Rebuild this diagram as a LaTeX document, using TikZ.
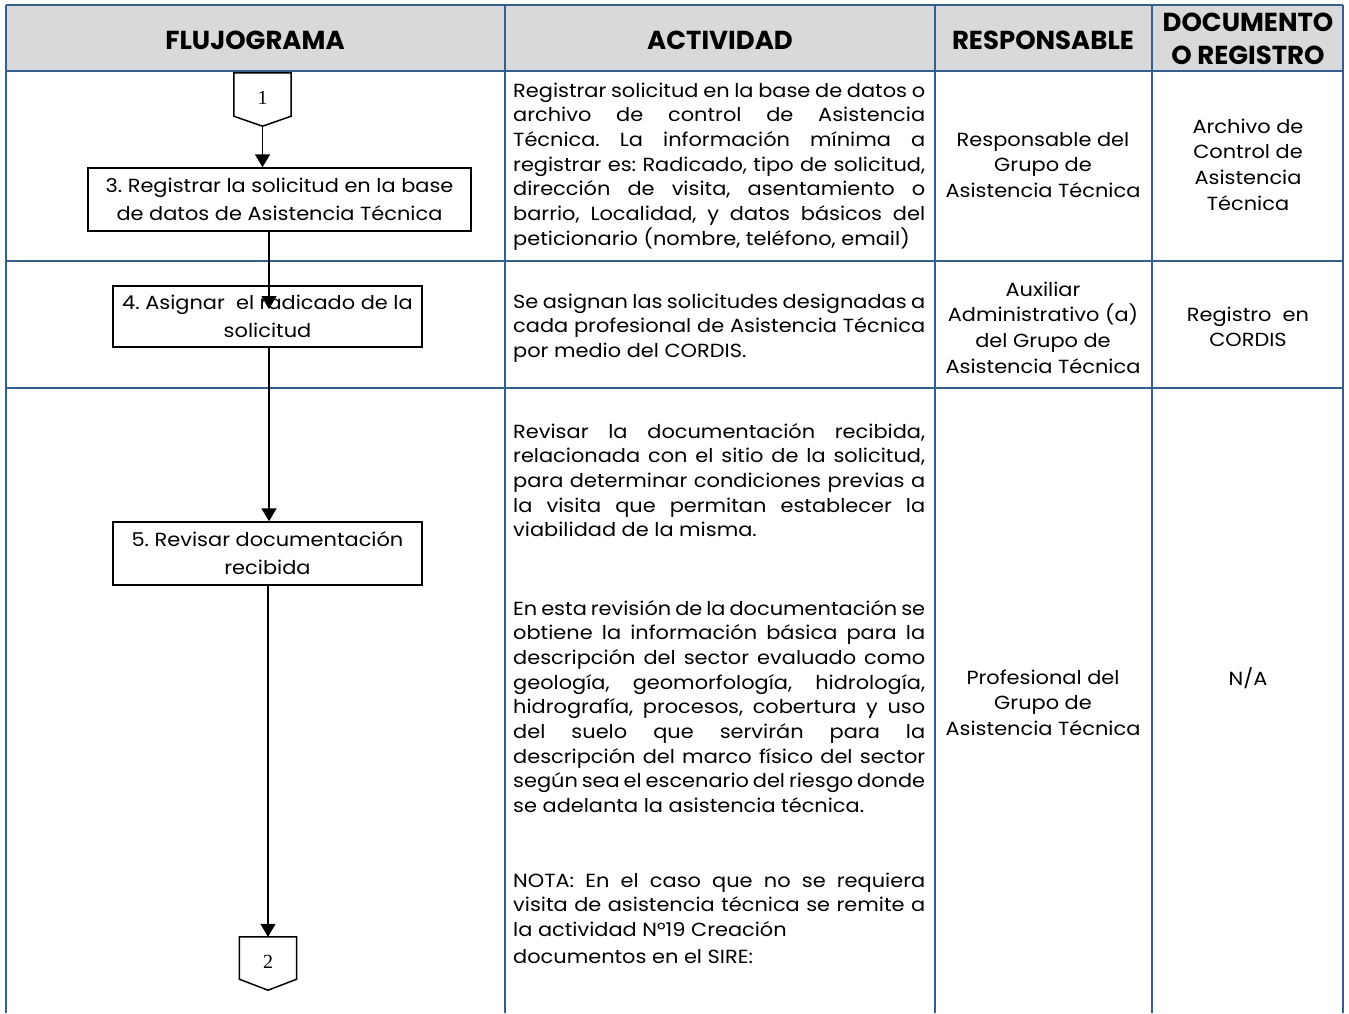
\documentclass[tikz,border=0pt]{standalone}
\usepackage{fontspec}
\setmainfont{Poppins}[FakeStretch=1.1]
\newfontfamily\headfont{Poppins}
\newfontfamily\numfont{Liberation Serif}
\usetikzlibrary{arrows.meta}
\frenchspacing

\definecolor{gridblue}{RGB}{54,95,145}
\definecolor{headgray}{RGB}{217,217,217}

% one line of a cell: justified, left aligned or centred
\newcommand\jline[1]{\hbox to \hsize{\spaceskip=0.26em plus 1fil minus 0.08em\relax #1}}
\newcommand\lline[1]{\hbox to \hsize{#1\hfil}}
\newcommand\ctrline[1]{\hbox to \hsize{\hfil#1\hfil}}
% a block of lines with a given width and line pitch
\newcommand\cellblock[3]{\vtop{\hsize=#1\relax\fontsize{19}{#2}\selectfont #3}}

\tikzset{
  x=1pt, y=-1pt,
  gridline/.style={draw=gridblue, line width=2.4pt},
  headtext/.style={inner sep=0, font=\headfont\fontsize{26}{33}\selectfont\bfseries, align=center},
  celltext/.style={inner sep=0},
  flowbox/.style={draw, line width=1.5pt, inner sep=0, align=center,
    font=\fontsize{19}{28}\selectfont},
  offpage/.style={inner sep=0, minimum width=57pt, minimum height=53pt,
    text depth=4pt, font=\numfont\fontsize{20}{20}\selectfont},
  flowline/.style={line width=1.5pt},
  flowarrow/.style={line width=1.5pt, -{Triangle[width=15pt,length=13pt]}},
}

\begin{document}
\begin{tikzpicture}
\useasboundingbox (0,0) rectangle (1349,1013);
\fill[white] (0,0) rectangle (1349,1013);

% ---- table frame ----
\fill[headgray] (6,5) rectangle (1343,71);
\foreach \yy in {5,71,261,388} \draw[gridline] (6,\yy) -- (1343,\yy);
\foreach \xx in {6,505,935,1152,1343} \draw[gridline] (\xx,5) -- (\xx,1013);

% ---- header ----
\node[headtext] (h1) at (255,40) {FLUJOGRAMA};
\node[headtext] (h2) at (720,40) {ACTIVIDAD};
\node[headtext] (h3) at (1043,40) {RESPONSABLE};
\node[headtext] (h4) at (1248,39) {DOCUMENTO\\O REGISTRO};

% ---- activity column ----
\node[celltext, anchor=base west] (a1) at (513,97) {\cellblock{412pt}{24.7pt}{%
  \jline{Registrar solicitud en la base de datos o}
  \jline{archivo de control de Asistencia}
  \jline{Técnica. La información mínima a}
  \jline{registrar es: Radicado, tipo de solicitud,}
  \jline{dirección de visita, asentamiento o}
  \jline{barrio, Localidad, y datos básicos del}
  \lline{peticionario (nombre, teléfono, email)}}};

\node[celltext, anchor=base west] (a2) at (513,308) {\cellblock{412pt}{24.7pt}{%
  \jline{Se asignan las solicitudes designadas a}
  \jline{cada profesional de Asistencia Técnica}
  \lline{por medio del CORDIS.}}};

\node[celltext, anchor=base west] (a3) at (513,438) {\cellblock{412pt}{24.7pt}{%
  \jline{Revisar la documentación recibida,}
  \jline{relacionada con el sitio de la solicitud,}
  \jline{para determinar condiciones previas a}
  \jline{la visita que permitan establecer la}
  \lline{viabilidad de la misma.}}};

\node[celltext, anchor=base west] (a3b) at (513,615) {\cellblock{412pt}{24.7pt}{%
  \jline{En esta revisión de la documentación se}
  \jline{obtiene la información básica para la}
  \jline{descripción del sector evaluado como}
  \jline{geología, geomorfología, hidrología,}
  \jline{hidrografía, procesos, cobertura y uso}
  \jline{del suelo que servirán para la}
  \jline{descripción del marco físico del sector}
  \jline{según sea el escenario del riesgo donde}
  \lline{se adelanta la asistencia técnica.}}};

\node[celltext, anchor=base west] (a3c) at (513,887) {\cellblock{412pt}{24.7pt}{%
  \jline{NOTA: En el caso que no se requiera}
  \jline{visita de asistencia técnica se remite a}
  \lline{la actividad N°19 Creación}
  \vskip 2pt
  \lline{documentos en el SIRE:}}};

% ---- responsible column ----
\node[celltext, anchor=base] (r1) at (1043,146) {\cellblock{212pt}{25.8pt}{%
  \ctrline{Responsable del}\ctrline{Grupo de}\ctrline{Asistencia Técnica}}};
\node[celltext, anchor=base] (r2) at (1043,296) {\cellblock{212pt}{25.8pt}{%
  \ctrline{Auxiliar}\ctrline{Administrativo (a)}\ctrline{del Grupo de}%
  \ctrline{Asistencia Técnica}}};
\node[celltext, anchor=base] (r3) at (1043,684) {\cellblock{212pt}{25.8pt}{%
  \ctrline{Profesional del}\ctrline{Grupo de}\ctrline{Asistencia Técnica}}};

% ---- document column ----
\node[celltext, anchor=base] (d1) at (1248,133) {\cellblock{186pt}{25.8pt}{%
  \ctrline{Archivo de}\ctrline{Control de}\ctrline{Asistencia}\ctrline{Técnica}}};
\node[celltext, anchor=base] (d2) at (1248,321) {\cellblock{186pt}{25.8pt}{%
  \ctrline{Registro\ \ en}\ctrline{CORDIS}}};
\node[celltext, anchor=base] (d3) at (1248,685) {\cellblock{186pt}{25.8pt}{%
  \ctrline{N/A}}};

% ---- flowchart ----
\node[offpage] (c1) at (262.5,99.5) {1};
\draw[flowline] (c1.north west) -- (c1.north east) -- ([yshift=10pt]c1.south east)
  -- (c1.south) -- ([yshift=10pt]c1.south west) -- cycle;

\node[flowbox, minimum width=383pt, minimum height=63pt] (b3) at (279.5,199.5)
  {3. Registrar la solicitud en la base\\de datos de Asistencia Técnica};
\node[flowbox, minimum width=309pt, minimum height=61pt] (b4) at (267.5,316.5)
  {4. Asignar\ \ el radicado de la\\solicitud};
\node[flowbox, minimum width=309pt, minimum height=63pt] (b5) at (267.5,553.5)
  {5. Revisar documentación\\recibida};

\node[offpage] (c2) at (268,963.5) {2};
\draw[flowline] (c2.north west) -- (c2.north east) -- ([yshift=11pt]c2.south east)
  -- (c2.south) -- ([yshift=11pt]c2.south west) -- cycle;

\coordinate (t4) at (269,309);
\draw[flowarrow] (c1.south) -- (c1.south |- b3.north);
\draw[flowarrow] (b3.south -| t4) -- (t4);
\draw[flowarrow] (b4.south -| t4) -- (b5.north -| t4);
\draw[flowarrow] (b5.south -| c2.north) -- (c2.north);
\end{tikzpicture}
\end{document}
